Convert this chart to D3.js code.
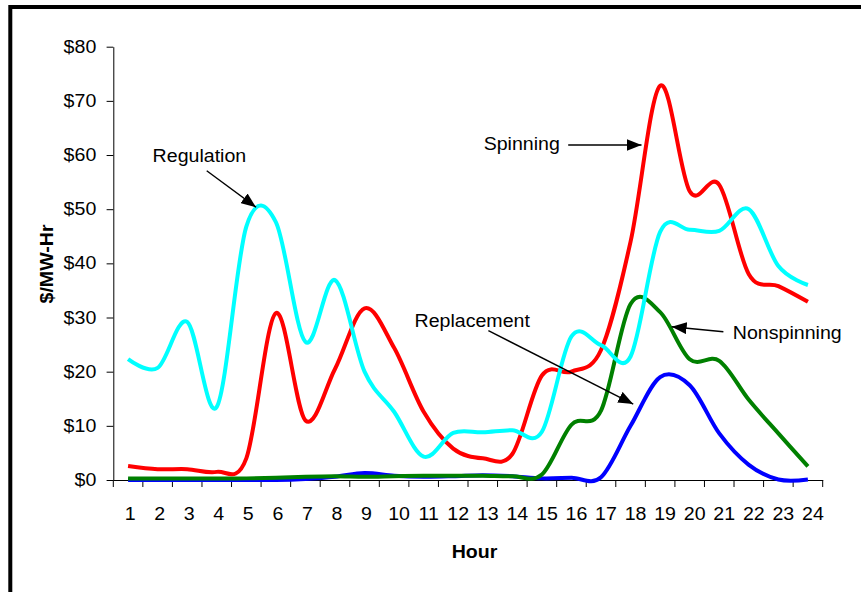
<!DOCTYPE html>
<html>
<head>
<meta charset="utf-8">
<script src="https://cdn.jsdelivr.net/npm/d3@7/dist/d3.min.js"></script>
<style>
  html, body { margin: 0; padding: 0; background: #fff; }
  svg { display: block; }
  text { font-family: "Liberation Sans", Arial, Helvetica, sans-serif; fill: #000; }
</style>
</head>
<body>
<svg id="chart" width="861" height="592"></svg>
<script>
// Hourly ancillary service prices ($/MW-Hr)
const hours = [1, 2, 3, 4, 5, 6, 7, 8, 9, 10, 11, 12, 13, 14, 15, 16, 17, 18, 19, 20, 21, 22, 23, 24];
const yTicks = [0, 10, 20, 30, 40, 50, 60, 70, 80];

const regulation  = [22.3, 20.7, 29.2, 13.5, 46.8, 47.6, 25.5, 36.9, 20.0, 12.6, 4.3, 8.7, 8.8, 9.2, 8.9, 26.5, 24.9, 22.8, 45.8, 46.2, 46.0, 50.0, 39.5, 36.0];
const spinning    = [2.6, 2.0, 2.0, 1.5, 4.0, 30.8, 11.0, 20.5, 31.7, 24.4, 12.6, 5.8, 4.0, 4.8, 19.3, 20.0, 24.0, 44.0, 72.8, 53.3, 54.5, 38.0, 35.8, 32.9];
const nonspinning = [0.3, 0.3, 0.3, 0.3, 0.3, 0.4, 0.6, 0.7, 0.6, 0.7, 0.8, 0.8, 0.8, 0.7, 1.0, 10.2, 12.8, 32.5, 31.0, 22.3, 22.0, 14.8, 8.6, 2.5];
const replacement = [0, 0, 0, 0, 0, 0, 0.2, 0.6, 1.3, 0.8, 0.6, 0.7, 0.9, 0.7, 0.3, 0.4, 0.5, 10.0, 19.0, 17.5, 8.6, 2.8, 0.1, 0.1];

const series = [
  { name: "Replacement", values: replacement, color: "#0000ff" },
  { name: "Nonspinning", values: nonspinning, color: "#008000" },
  { name: "Spinning",    values: spinning,    color: "#ff0000" },
  { name: "Regulation",  values: regulation,  color: "#00ffff" }
];

// Callouts: label anchor and arrow ends, in hour / price coordinates
const callouts = [
  { text: "Regulation",  tx: 1.83,  ty: 58.8, from: [3.66, 57.1],  to: [5.33, 50.35] },
  { text: "Spinning",    tx: 13.03, ty: 61.0, from: [15.89, 61.85], to: [18.37, 61.85] },
  { text: "Replacement", tx: 10.69, ty: 28.3, from: [13.19, 27.57], to: [18.09, 14.03] },
  { text: "Nonspinning", tx: 21.46, ty: 26.0, from: [21.14, 27.38], to: [19.39, 28.3] }
];

const svg = d3.select("#chart");
const plotLeft = 113.3, plotRight = 822.7, plotTop = 46.7, plotBottom = 480;
const FS = 17.5, SX = 1.12;

const x = d3.scaleBand().domain(hours).range([plotLeft, plotRight]).padding(0);
const y = d3.scaleLinear().domain([0, 80]).range([plotBottom, plotTop]);
const cx = h => x(h) + x.bandwidth() / 2;
// continuous hour position for callouts
const xh = d3.scaleLinear().domain([1, 24]).range([cx(1), cx(24)]);

// outer frame
svg.append("rect")
  .attr("x", 10.3).attr("y", 7)
  .attr("width", 1000).attr("height", 1000)
  .attr("fill", "none").attr("stroke", "#000").attr("stroke-width", 4);

// y axis
const gy = svg.append("g")
  .attr("transform", `translate(${plotLeft},0)`)
  .call(d3.axisLeft(y).tickValues(yTicks).tickFormat(d => "$" + d).tickSize(6.7).tickSizeOuter(0));
gy.select(".domain").attr("stroke", "#000");
gy.selectAll(".tick line").attr("stroke", "#000");
gy.selectAll(".tick text")
  .attr("x", 0)
  .attr("transform", "translate(-17,0) scale(" + SX + ",1)")
  .style("font-size", FS + "px")
  .style("font-family", '"Liberation Sans", Arial, sans-serif')
  .attr("fill", "#000");

// x axis: labels centred in each hour band
const gx = svg.append("g")
  .attr("transform", `translate(0,${plotBottom})`)
  .call(d3.axisBottom(x).tickSize(0).tickPadding(28).tickSizeOuter(0));
gx.select(".domain").attr("stroke", "#000");
gx.selectAll(".tick text")
  .attr("transform", d => "translate(" + (String(d).length > 1 ? 5 : 2) + ",0) scale(" + SX + ",1)")
  .style("font-size", FS + "px")
  .style("font-family", '"Liberation Sans", Arial, sans-serif')
  .attr("fill", "#000");

// tick marks sit between the hour bands
const bounds = hours.map(h => x(h)).concat([x(hours[hours.length - 1]) + x.bandwidth()]);
svg.append("g").selectAll("line").data(bounds).join("line")
  .attr("x1", d => d).attr("x2", d => d)
  .attr("y1", plotBottom).attr("y2", plotBottom + 7)
  .attr("stroke", "#000").attr("stroke-width", 1);

// series lines
const line = d3.line()
  .x((d, i) => cx(hours[i]))
  .y(d => y(d))
  .curve(d3.curveCardinal.tension(0));

svg.append("g").selectAll("path").data(series).join("path")
  .attr("d", s => line(s.values))
  .attr("fill", "none")
  .attr("stroke", s => s.color)
  .attr("stroke-width", 4)
  .attr("stroke-linejoin", "round")
  .attr("stroke-linecap", "butt");

// arrow marker
svg.append("defs").append("marker")
  .attr("id", "head")
  .attr("markerUnits", "userSpaceOnUse")
  .attr("markerWidth", 15).attr("markerHeight", 12)
  .attr("refX", 15).attr("refY", 6)
  .attr("orient", "auto")
  .append("path").attr("d", "M0,0 L15,6 L0,12 Z").attr("fill", "#000");

const gc = svg.append("g");
gc.selectAll("line").data(callouts).join("line")
  .attr("x1", d => xh(d.from[0])).attr("y1", d => y(d.from[1]))
  .attr("x2", d => xh(d.to[0])).attr("y2", d => y(d.to[1]))
  .attr("stroke", "#000").attr("stroke-width", 1.4)
  .attr("marker-end", "url(#head)");
gc.selectAll("text").data(callouts).join("text")
  .attr("transform", d => `translate(${xh(d.tx)},${y(d.ty)}) scale(${SX},1)`)
  .style("font-size", FS + "px")
  .text(d => d.text);

// axis titles
svg.append("text")
  .attr("transform", `translate(53,264) rotate(-90) scale(${SX},1)`)
  .attr("text-anchor", "middle")
  .style("font-size", FS + "px").style("font-weight", "bold")
  .text("$/MW-Hr");
svg.append("text")
  .attr("transform", `translate(474.5,558) scale(${SX},1)`)
  .attr("text-anchor", "middle")
  .style("font-size", FS + "px").style("font-weight", "bold")
  .text("Hour");
</script>
</body>
</html>
